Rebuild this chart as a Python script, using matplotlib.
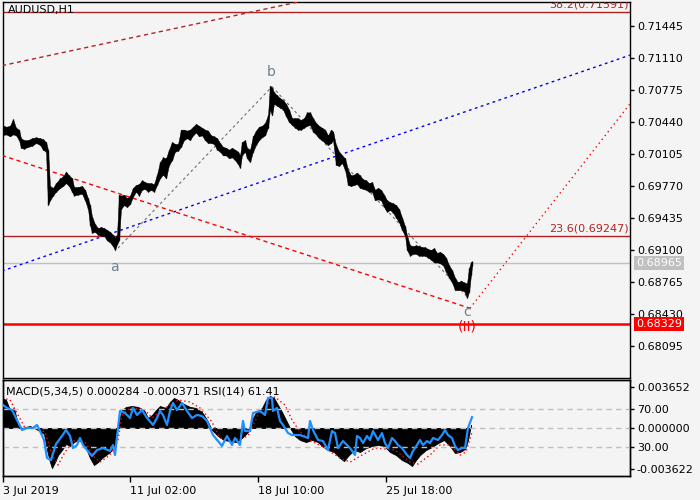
"""AUDUSD H1 wave chart with MACD / RSI sub-window, rebuilt from a terminal screenshot."""
import matplotlib
matplotlib.use("Agg")
import matplotlib.pyplot as plt

# --- price bars (bar index, high, low) ---
bar_idx = [0, 4, 8, 11, 14, 17, 19, 22, 26, 30, 34, 38, 41, 44, 46, 48, 51, 54, 58, 61,
           64, 67, 70, 72, 76, 80, 83, 86, 88, 90, 93, 96, 99, 102, 105, 108, 111, 113, 115, 117,
           119, 122, 125, 128, 131, 134, 137, 140, 143, 146, 149, 152, 155, 158, 161, 164, 167, 170, 173, 176,
           179, 182, 185, 188, 191, 194, 197, 200, 203, 206, 209, 212, 215, 218, 221, 224, 227, 230, 233, 236,
           238, 240, 243, 245, 248, 251, 254, 257, 260, 263, 266, 268, 270, 272, 275, 278, 281, 284, 287, 290,
           293, 296, 299, 302, 305, 308, 311, 314, 317, 320, 323, 326, 329, 331, 334, 337, 340, 343, 346, 349,
           352, 355, 358, 361, 364, 367, 370, 373, 376, 379, 382, 385, 388, 391, 394, 397, 400, 403, 405, 408,
           411, 414, 417, 420, 423, 426, 429, 432, 435, 438, 441, 444, 447, 450, 453, 456, 459, 462, 465, 467,
           469, 470]
bar_high = [0.7041, 0.7039, 0.7040, 0.7047, 0.7038, 0.7036, 0.7027, 0.7025, 0.7025, 0.7027, 0.7028, 0.7027, 0.7026, 0.7023, 0.7015, 0.6977, 0.6975, 0.6980, 0.6985, 0.6987,
            0.6992, 0.6988, 0.6985, 0.6976, 0.6976, 0.6977, 0.6973, 0.6964, 0.6957, 0.6945, 0.6937, 0.6933, 0.6934, 0.6933, 0.6931, 0.6929, 0.6926, 0.6923, 0.6926, 0.6968,
            0.6967, 0.6968, 0.6964, 0.6967, 0.6975, 0.6978, 0.6979, 0.6983, 0.6981, 0.6980, 0.6980, 0.6979, 0.6989, 0.7002, 0.7007, 0.7006, 0.7015, 0.7023, 0.7021, 0.7021,
            0.7036, 0.7036, 0.7035, 0.7036, 0.7039, 0.7042, 0.7040, 0.7038, 0.7036, 0.7035, 0.7030, 0.7029, 0.7027, 0.7022, 0.7018, 0.7017, 0.7015, 0.7017, 0.7015, 0.7013,
            0.7009, 0.7023, 0.7025, 0.7017, 0.7015, 0.7029, 0.7035, 0.7039, 0.7040, 0.7043, 0.7051, 0.7082, 0.7080, 0.7075, 0.7072, 0.7069, 0.7067, 0.7063, 0.7057, 0.7048,
            0.7048, 0.7048, 0.7046, 0.7048, 0.7054, 0.7054, 0.7048, 0.7043, 0.7040, 0.7038, 0.7036, 0.7030, 0.7036, 0.7034, 0.7020, 0.7013, 0.7009, 0.7006, 0.6994, 0.6988,
            0.6989, 0.6991, 0.6988, 0.6984, 0.6983, 0.6980, 0.6981, 0.6973, 0.6975, 0.6973, 0.6968, 0.6962, 0.6960, 0.6959, 0.6957, 0.6953, 0.6944, 0.6935, 0.6925, 0.6915,
            0.6914, 0.6915, 0.6914, 0.6913, 0.6913, 0.6911, 0.6910, 0.6912, 0.6907, 0.6908, 0.6906, 0.6902, 0.6894, 0.6889, 0.6881, 0.6876, 0.6878, 0.6876, 0.6875, 0.6891,
            0.6897, 0.6898]
bar_low = [0.7030, 0.7031, 0.7029, 0.7031, 0.7030, 0.7025, 0.7017, 0.7016, 0.7018, 0.7019, 0.7022, 0.7020, 0.7015, 0.7013, 0.6957, 0.6962, 0.6967, 0.6971, 0.6975, 0.6977,
           0.6980, 0.6977, 0.6971, 0.6967, 0.6968, 0.6969, 0.6962, 0.6953, 0.6936, 0.6928, 0.6929, 0.6926, 0.6925, 0.6925, 0.6920, 0.6918, 0.6914, 0.6910, 0.6916, 0.6920,
           0.6953, 0.6957, 0.6955, 0.6958, 0.6966, 0.6971, 0.6967, 0.6973, 0.6974, 0.6971, 0.6973, 0.6971, 0.6978, 0.6985, 0.6989, 0.6985, 0.6999, 0.7004, 0.7013, 0.7014,
           0.7018, 0.7025, 0.7027, 0.7025, 0.7030, 0.7033, 0.7029, 0.7030, 0.7025, 0.7022, 0.7022, 0.7021, 0.7015, 0.7013, 0.7009, 0.7009, 0.7006, 0.7007, 0.7004, 0.7000,
           0.6996, 0.7009, 0.7013, 0.7006, 0.7002, 0.7013, 0.7020, 0.7025, 0.7028, 0.7030, 0.7038, 0.7057, 0.7051, 0.7063, 0.7061, 0.7059, 0.7057, 0.7050, 0.7044, 0.7041,
           0.7038, 0.7036, 0.7036, 0.7038, 0.7040, 0.7041, 0.7034, 0.7031, 0.7027, 0.7025, 0.7022, 0.7020, 0.7022, 0.7025, 0.6999, 0.6998, 0.7001, 0.6994, 0.6978, 0.6977,
           0.6978, 0.6979, 0.6975, 0.6974, 0.6973, 0.6971, 0.6971, 0.6962, 0.6963, 0.6962, 0.6955, 0.6950, 0.6952, 0.6949, 0.6944, 0.6939, 0.6931, 0.6925, 0.6910, 0.6904,
           0.6906, 0.6906, 0.6904, 0.6904, 0.6904, 0.6902, 0.6900, 0.6897, 0.6897, 0.6896, 0.6894, 0.6887, 0.6881, 0.6876, 0.6868, 0.6868, 0.6868, 0.6867, 0.6860, 0.6866,
           0.6884, 0.6893]

# --- MACD(5,34,5) histogram and signal, in units of 1e-4 ---
hist_idx = [0, 4, 8, 12, 16, 20, 28, 36, 42, 45, 48, 50, 53, 56, 60, 64, 68, 72, 76, 80,
            84, 88, 92, 96, 100, 104, 108, 112, 115, 117, 120, 124, 130, 136, 142, 146, 150, 154, 158, 164,
            168, 172, 176, 180, 184, 188, 194, 200, 205, 210, 216, 222, 228, 234, 240, 246, 250, 254, 260, 264,
            268, 272, 276, 280, 284, 288, 293, 298, 304, 310, 316, 320, 326, 332, 338, 342, 346, 352, 358, 364,
            370, 376, 382, 388, 394, 400, 406, 410, 414, 418, 424, 430, 436, 442, 448, 453, 458, 463, 466, 469]
hist_e4 = [26.5, 24.8, 15.9, 17.7, 2.7, 0.0, 1.8, -1.8, -5.3, -19.4, -30.1, -35.4, -30.1, -23.9, -19.4, -14.1, -15.9, -12.4, -10.6, -12.4,
           -17.7, -26.5, -32.7, -30.1, -26.5, -23.9, -21.2, -17.7, -1.8, 7.1, 15.9, 18.6, 19.4, 18.6, 15.9, 8.8, 11.5, 15.9, 19.4, 17.7,
           23.0, 26.5, 24.8, 22.1, 20.3, 18.6, 17.7, 14.1, 7.1, -1.8, -7.1, -10.6, -11.5, -12.4, -8.8, -3.5, 7.1, 14.1, 17.7, 24.8,
           28.3, 26.5, 20.3, 14.1, 7.1, 0.0, -7.1, -10.6, -12.4, -10.6, -12.4, -15.9, -19.4, -21.2, -26.5, -29.2, -24.8, -19.4, -21.2, -17.7,
           -15.9, -15.0, -15.9, -21.2, -23.9, -28.3, -30.9, -33.6, -28.3, -23.9, -19.4, -16.8, -13.3, -10.6, -15.9, -22.1, -21.2, -18.6, -10.6, 2.8]
signal_idx = [0, 8, 16, 23, 33, 43, 50, 56, 63, 73, 83, 93, 98, 108, 116, 120, 128, 143, 150, 160,
              176, 188, 198, 210, 218, 233, 246, 256, 273, 283, 290, 298, 308, 323, 338, 348, 360, 373, 393, 408,
              416, 428, 438, 448, 458, 464, 470]
signal_e4 = [26.5, 24.8, 11.5, 0.0, 0.0, -3.5, -23.9, -32.7, -21.2, -10.6, -12.4, -26.5, -30.1, -23.9, -10.6, 11.5, 17.7, 15.9, 8.8, 15.9,
             24.8, 23.0, 17.7, 5.3, -8.8, -10.6, -7.1, 11.5, 27.4, 20.3, 7.1, -3.5, -10.6, -17.7, -26.5, -30.1, -23.9, -17.7, -19.4, -30.1,
             -31.8, -23.9, -15.0, -15.0, -23.9, -21.2, -3.7]

# --- RSI(14) ---
rsi_idx = [1, 5, 10, 15, 20, 25, 31, 35, 38, 42, 45, 49, 54, 60, 64, 68, 71, 75, 78, 81,
           85, 90, 95, 101, 108, 111, 113, 116, 118, 123, 128, 131, 135, 140, 145, 151, 155, 158, 161, 165,
           168, 171, 175, 180, 185, 190, 195, 200, 205, 208, 211, 216, 220, 225, 230, 233, 238, 241, 243, 248,
           251, 258, 263, 266, 270, 271, 275, 278, 281, 286, 290, 298, 306, 308, 311, 316, 321, 326, 330, 333,
           336, 341, 345, 348, 353, 355, 358, 361, 365, 368, 371, 376, 380, 383, 386, 390, 393, 396, 400, 405,
           408, 411, 415, 418, 421, 425, 428, 431, 436, 440, 443, 446, 450, 453, 456, 460, 463, 466, 470]
rsi = [74.2, 71.1, 68.9, 58.4, 47.9, 50.0, 50.0, 53.2, 46.8, 37.4, 18.4, 16.3, 33.2, 41.6, 47.9, 41.6, 28.9, 32.1, 39.5, 32.1,
       26.8, 20.5, 26.8, 28.9, 25.8, 32.1, 21.6, 50.0, 67.9, 65.8, 60.5, 71.1, 63.7, 68.9, 60.5, 53.2, 60.5, 67.9, 63.7, 53.2,
       67.9, 76.3, 68.9, 76.3, 67.9, 60.5, 63.7, 62.6, 57.4, 50.0, 42.6, 36.3, 31.1, 41.6, 32.1, 39.5, 32.1, 57.4, 46.8, 46.8,
       65.8, 67.9, 63.7, 81.6, 81.6, 67.9, 71.1, 57.4, 53.2, 44.7, 42.6, 42.6, 39.5, 57.4, 47.9, 37.4, 36.3, 26.8, 46.8, 44.7,
       28.9, 36.3, 32.1, 28.9, 21.6, 41.6, 39.5, 34.2, 41.6, 37.4, 46.8, 37.4, 44.7, 34.2, 28.9, 39.5, 36.3, 32.1, 28.9, 21.6,
       18.4, 25.8, 32.1, 37.4, 32.1, 36.3, 34.2, 39.5, 37.4, 42.6, 47.9, 42.6, 39.5, 31.1, 26.8, 28.9, 28.9, 50.0, 61.4]

# --- analysis objects drawn on the chart: (bar, price) end points ---
fan_top = ([0, 320], [0.7103, 0.7175])
wave_base = ([0, 468], [0.7009, 0.6849])
target_ray = ([468, 628], [0.6849, 0.7063])
blue_ray = ([0, 628], [0.6888, 0.7114])
wave_ab = ([116, 270], [0.6912, 0.7081])
wave_bc = ([270, 466], [0.7081, 0.6860])

fib_levels = [0.71591, 0.69247]
fib_labels = ["38.2(0.71591)", "23.6(0.69247)"]
last_price = 0.68965
stop_level = 0.68329

wave_labels = ["a", "b", "c"]
wave_label_pos = [(112, 0.6892), (269, 0.7096), (465, 0.6845)]

price_ticks = [0.71445, 0.71110, 0.70775, 0.70440, 0.70105, 0.69770,
               0.69435, 0.69100, 0.68765, 0.68430, 0.68095]
date_ticks = [1, 128, 256, 384]
date_labels = ["3 Jul 2019", "11 Jul 02:00", "18 Jul 10:00", "25 Jul 18:00"]

BG = "#f4f4f4"
DARKRED = "#b22222"

fig = plt.figure(figsize=(7, 5), dpi=100, facecolor=BG)
ax = fig.add_axes([2.5 / 700, 1 - 378 / 500, 627.5 / 700, 376 / 500], facecolor=BG)
axm = fig.add_axes([2.5 / 700, 1 - 476 / 500, 627.5 / 700, 96 / 500], facecolor=BG)

# ---------------- main price window ----------------
ax.set_xlim(0.5, 628)
ax.set_ylim(0.67760, 0.71696)

ax.fill_between(bar_idx, bar_low, bar_high, color="black", lw=0.3, zorder=4)
ax.vlines(bar_idx, bar_low, bar_high, color="black", lw=1.0, zorder=4)

for lvl in fib_levels:
    ax.axhline(lvl, color=DARKRED, lw=1.0, zorder=2)
ax.axhline(last_price, color="#c0c0c0", lw=1.0, zorder=2)
ax.axhline(stop_level, color="red", lw=1.8, zorder=2)

ax.plot(*fan_top, color=DARKRED, lw=1.0, ls=(0, (3, 2.5)), zorder=3)
ax.plot(*wave_base, color="red", lw=1.0, ls=(0, (3, 2.5)), zorder=3)
ax.plot(*target_ray, color="red", lw=1.0, ls=(0, (1, 2.5)), zorder=3)
ax.plot(*blue_ray, color="blue", lw=1.0, ls=(0, (2, 2.5)), zorder=3)
ax.plot(*wave_ab, color="#707070", lw=0.8, ls=(0, (2.5, 2.5)), zorder=3)
ax.plot(*wave_bc, color="#707070", lw=0.8, ls=(0, (2.5, 2.5)), zorder=3)

for lvl, lab in zip(fib_levels, fib_labels):
    ax.annotate(lab, xy=(627, lvl), xytext=(0, 1.5), textcoords="offset points",
                ha="right", va="bottom", fontsize=8, color=DARKRED,
                annotation_clip=False, clip_on=True)

for lab, (bx, py) in zip(wave_labels, wave_label_pos):
    ax.text(bx, py, lab, color="#708090", fontsize=10, ha="center", va="center", zorder=5)
ax.text(465, 0.6830, "(II)", color="red", fontsize=10, ha="center", va="center", zorder=5)

ax.text(5.5 / 627.5, 1 - 3 / 376, "AUDUSD,H1", transform=ax.transAxes,
        ha="left", va="top", fontsize=8, color="black", zorder=6)

ax.yaxis.tick_right()
ax.set_yticks(price_ticks)
ax.set_yticklabels([f"{t:.5f}" for t in price_ticks])
ax.tick_params(axis="y", direction="out", length=3, width=1, pad=2, labelsize=8)
ax.set_xticks([])

ytr = ax.get_yaxis_transform()
ax.annotate(f"{last_price:.5f}", xy=(1, last_price), xycoords=ytr, xytext=(4.5, 0),
            textcoords="offset points", ha="left", va="center", fontsize=8, color="white",
            bbox=dict(boxstyle="square,pad=0.18", fc="#c0c0c0", ec="none"),
            annotation_clip=False, zorder=10)
ax.annotate(f"{stop_level:.5f}", xy=(1, stop_level), xycoords=ytr, xytext=(4.5, 0),
            textcoords="offset points", ha="left", va="center", fontsize=8, color="white",
            bbox=dict(boxstyle="square,pad=0.18", fc="red", ec="none"),
            annotation_clip=False, zorder=10)

# ---------------- MACD / RSI window ----------------
axm.set_xlim(0.5, 628)
axm.set_ylim(-0.00424, 0.00424)
axm.fill_between(hist_idx, 0, [v * 1e-4 for v in hist_e4], color="black", lw=0.6, zorder=2)
axm.plot(signal_idx, [v * 1e-4 for v in signal_e4], color="red", lw=1.0,
         ls=(0, (1, 2)), zorder=3)

axr = axm.twinx()
axr.set_ylim(-0.5, 100.5)
for lvl in (70, 50, 30):
    axr.axhline(lvl, color="#c0c0c0", lw=1.0, ls=(0, (4, 3)), zorder=1)
axr.plot(rsi_idx, rsi, color="#1e90ff", lw=1.6, zorder=4)

macd_ticks = [0.003652, 0.0, -0.003622]
axm.yaxis.tick_right()
axm.set_yticks(macd_ticks)
axm.set_yticklabels(["0.003652", "0.000000", "-0.003622"])
axm.tick_params(axis="y", direction="out", length=3, width=1, pad=2, labelsize=8)
axr.set_yticks([70, 30])
axr.set_yticklabels(["70.00", "30.00"])
axr.tick_params(axis="y", direction="out", length=3, width=1, pad=2, labelsize=8)

axm.set_xticks(date_ticks)
axm.set_xticklabels(date_labels, ha="left")
axm.tick_params(axis="x", direction="out", length=4, width=1, pad=3, labelsize=8)

axm.text(3.5 / 627.5, 1 - 12 / 96, "MACD(5,34,5) 0.000284 -0.000371 RSI(14) 61.41",
         transform=axm.transAxes, ha="left", va="center", fontsize=8, color="black", zorder=6)

for a in (ax, axm, axr):
    for s in a.spines.values():
        s.set_color("black")
        s.set_linewidth(1.0)

fig.savefig("out.png", dpi=100, facecolor=BG)
